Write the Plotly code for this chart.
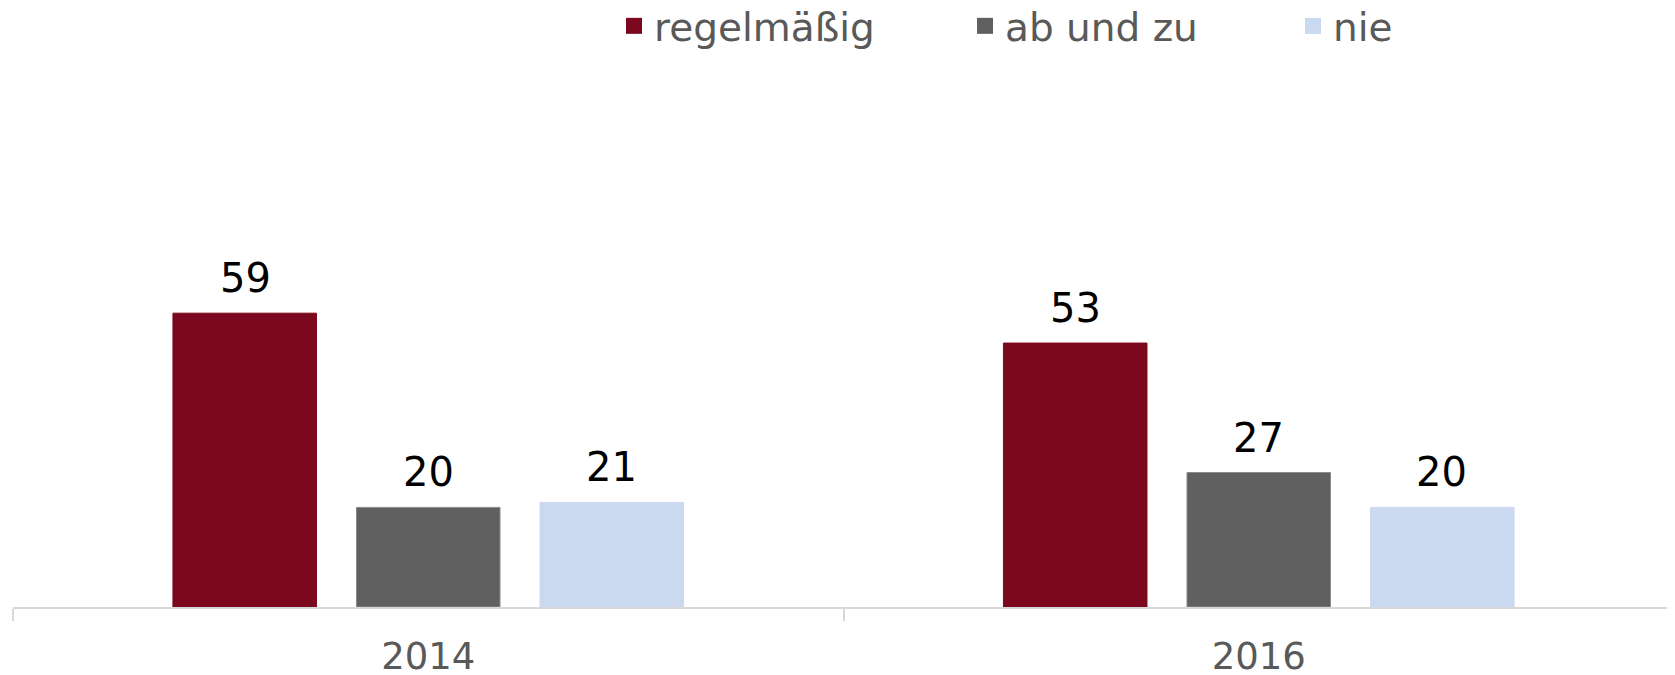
import plotly.graph_objects as go

years = ["2014", "2016"]
series_names = ["regelmäßig", "ab und zu", "nie"]
regelmaessig = [59, 53]
ab_und_zu = [20, 27]
nie = [21, 20]
values = [regelmaessig, ab_und_zu, nie]
colors = ["#7B081E", "#606060", "#CAD9EF"]
line_colors = ["#7B081E", "#8a8a8a", "#CAD9EF"]

FONT = "DejaVu Sans"
W, H = 1667, 667  # page body has an 8px default margin
fig = go.Figure()

for name, vals, col, lc in zip(series_names, values, colors, line_colors):
    fig.add_trace(go.Bar(
        x=years, y=vals, name=name, marker=dict(color=col, line=dict(color=lc, width=1)),
        showlegend=False, hoverinfo="skip",
    ))

# legend entries (square markers), each in its own legend for exact placement
legend_x = [606, 957, 1285]
for i, (name, col) in enumerate(zip(series_names, colors)):
    lg = "legend" if i == 0 else f"legend{i+1}"
    fig.add_trace(go.Scatter(
        x=[years[0]], y=[None], mode="markers", name=name,
        marker=dict(symbol="square", size=18, color=col),
        legend=lg, showlegend=True, hoverinfo="skip",
    ))

# data labels (category index positions, shifted to each bar of the group)
offsets = [-183, 0, 183]
for vals, off in zip(values, offsets):
    for idx, v in enumerate(vals):
        fig.add_annotation(
            x=idx, y=v, text=str(v), showarrow=False, xshift=off, yshift=10,
            yanchor="bottom", font=dict(family=FONT, size=40, color="#000000"),
        )

legend_common = dict(
    orientation="h", xref="container", yref="container", xanchor="left", yanchor="middle",
    font=dict(family=FONT, size=39, color="#595959"), bgcolor="rgba(0,0,0,0)",
    itemwidth=30,
)
layout_legends = {}
for i, lx in enumerate(legend_x):
    key = "legend" if i == 0 else f"legend{i+1}"
    layout_legends[key] = dict(legend_common, x=lx / W, y=1 - 18 / H)

fig.update_layout(
    width=W, height=H,
    margin=dict(l=5, r=1, t=101, b=68, autoexpand=False),
    paper_bgcolor="white", plot_bgcolor="white",
    barmode="group", bargap=0.337, bargroupgap=0.218,
    font=dict(family=FONT, color="#595959"),
    xaxis=dict(
        type="category", categoryorder="array", categoryarray=years,
        range=[-0.5, len(years) - 0.5],
        showline=True, linecolor="#D9D9D9", linewidth=2,
        ticks="outside", tickson="boundaries", ticklen=12, tickcolor="#D9D9D9", tickwidth=2,
        tickfont=dict(family=FONT, size=37, color="#595959"), showgrid=False, zeroline=False,
        tickangle=0, ticklabelstandoff=16,
    ),
    yaxis=dict(range=[0, 100], visible=False, showgrid=False, zeroline=False),
    **layout_legends,
)

fig.write_html("out.html")
